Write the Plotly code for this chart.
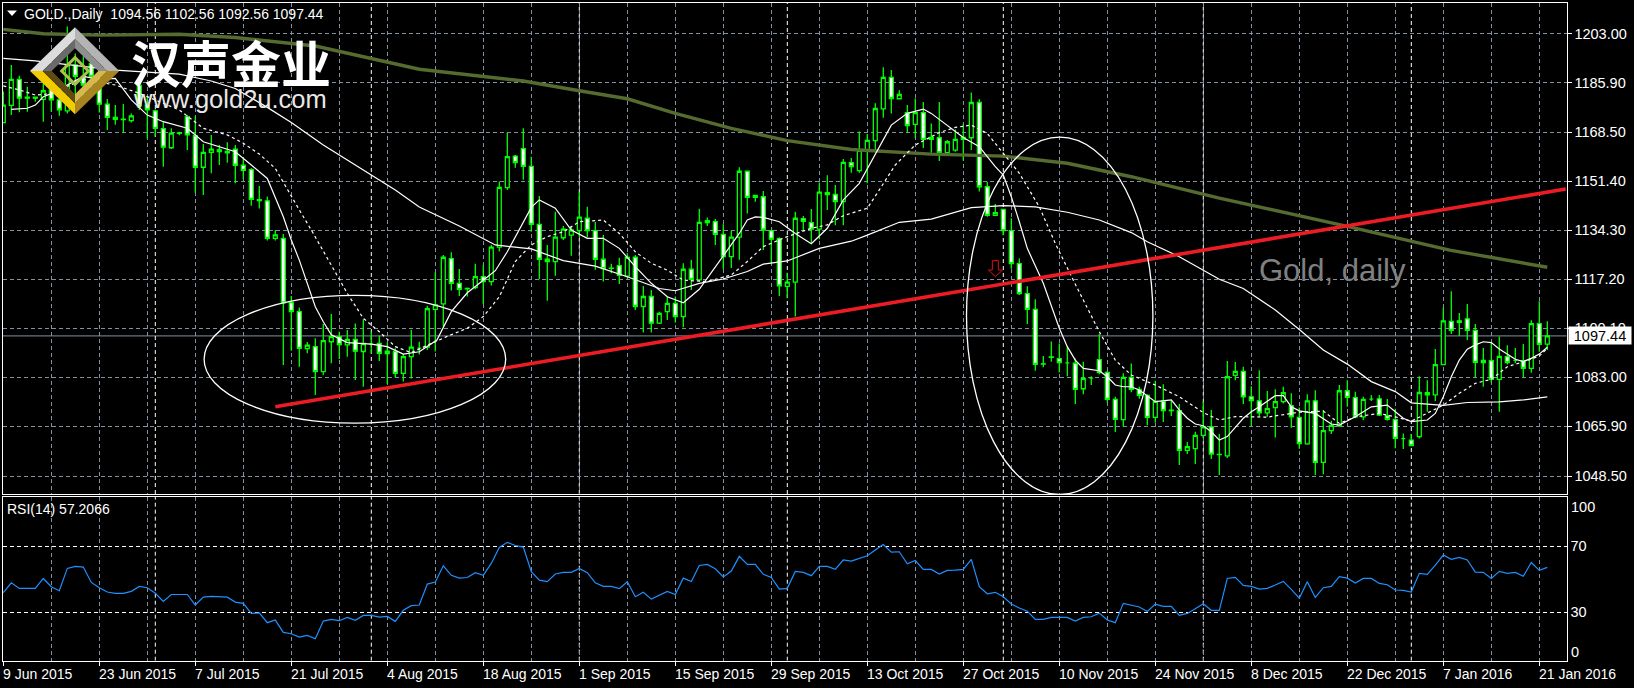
import plotly.graph_objects as go

W, H = 1634, 688

OPEN = [1171.9,1177.9,1187.0,1180.8,1180.8,1180.0,1183.3,1179.8,1176.0,1192.0,
 1188.0,1192.5,1186.8,1178.3,1173.7,1173.1,1172.6,1184.9,1177.9,1176.0,
 1169.8,1163.1,1168.1,1174.0,1167.3,1156.3,1161.5,1162.4,1161.8,1162.6,
 1157.0,1155.5,1145.0,1144.6,1131.5,1131.5,1109.1,1105.9,1093.0,1093.7,
 1085.0,1095.4,1097.2,1094.3,1096.2,1092.0,1094.6,1094.8,1091.3,1092.0,
 1084.4,1090.2,1093.2,1093.5,1106.7,1108.6,1124.4,1115.8,1113.9,1114.3,
 1118.1,1116.4,1128.4,1149.2,1160.2,1162.8,1156.6,1136.4,1124.2,1123.4,
 1131.7,1132.6,1134.2,1138.5,1134.2,1124.2,1121.1,1122.0,1118.3,1124.9,
 1107.7,1111.2,1101.9,1105.9,1108.8,1104.2,1120.7,1117.0,1137.7,1137.3,
 1132.9,1125.1,1131.9,1154.9,1145.8,1146.0,1134.2,1131.4,1114.7,1116.2,
 1138.4,1137.0,1134.7,1147.4,1146.8,1144.3,1157.9,1155.1,1162.2,1165.6,
 1176.7,1187.7,1180.2,1175.4,1171.3,1175.4,1166.0,1166.6,1161.4,1162.3,
 1166.0,1166.6,1178.9,1149.5,1139.5,1141.6,1134.2,1122.7,1112.2,1106.7,
 1087.7,1090.1,1089.5,1088.0,1087.9,1079.0,1082.7,1089.2,1084.7,1075.3,
 1068.2,1083.0,1078.8,1076.7,1069.0,1074.6,1071.5,1071.4,1057.5,1058.1,
 1062.7,1065.7,1056.1,1055.6,1083.7,1085.1,1076.2,1074.8,1070.6,1072.4,
 1074.5,1073.1,1069.0,1059.8,1074.8,1053.3,1064.4,1066.0,1078.3,1075.9,
 1069.2,1075.4,1075.5,1069.6,1068.2,1061.6,1061.1,1062.3,1076.9,1076.9,
 1087.4,1102.5,1102.7,1103.4,1099.4,1088.9,1088.8,1082.3,1090.2,1088.9,
 1088.8,1086.1,1101.7,1094.56]
HIGH = [1182.7,1192.0,1188.2,1184.4,1180.9,1185.6,1185.6,1183.0,1205.4,1196.0,
 1195.0,1198.0,1192.0,1180.1,1178.0,1178.4,1175.1,1185.6,1181.0,1176.5,
 1172.2,1169.9,1168.7,1174.5,1174.2,1164.4,1167.6,1164.1,1165.0,1164.1,
 1159.4,1156.0,1149.8,1146.1,1134.4,1133.0,1111.4,1107.4,1095.3,1096.6,
 1101.6,1105.1,1098.9,1099.5,1101.8,1103.3,1098.9,1097.6,1095.1,1093.1,
 1091.1,1099.5,1095.4,1108.0,1119.7,1125.7,1126.6,1120.8,1114.3,1122.6,
 1122.2,1129.2,1151.3,1168.4,1160.6,1169.9,1160.0,1146.3,1129.2,1140.8,
 1135.8,1135.8,1147.7,1142.5,1137.2,1132.7,1122.6,1124.7,1126.3,1125.7,
 1114.9,1113.5,1105.9,1111.2,1111.2,1122.8,1124.0,1141.8,1138.8,1138.2,
 1136.4,1134.2,1156.3,1155.1,1146.5,1148.0,1134.4,1131.9,1119.5,1140.8,
 1139.3,1141.7,1151.0,1153.5,1150.1,1159.2,1159.5,1168.8,1167.9,1178.6,
 1191.2,1190.2,1183.2,1178.0,1180.3,1179.1,1171.6,1179.1,1165.8,1169.5,
 1171.4,1182.4,1180.0,1151.2,1143.5,1141.8,1138.5,1124.5,1114.8,1110.2,
 1090.4,1095.5,1094.8,1093.7,1089.6,1088.4,1083.4,1098.1,1085.3,1076.2,
 1084.4,1087.8,1079.7,1077.1,1081.8,1080.6,1074.8,1073.7,1060.4,1064.0,
 1074.5,1071.6,1063.2,1088.7,1088.3,1086.7,1079.9,1085.5,1078.2,1078.8,
 1079.7,1077.4,1072.5,1077.1,1078.5,1071.6,1067.8,1080.3,1082.0,1078.0,
 1076.2,1076.8,1076.8,1075.4,1072.0,1063.4,1063.2,1083.4,1082.0,1092.9,
 1107.4,1113.0,1105.4,1108.6,1101.6,1093.2,1095.2,1097.2,1094.2,1093.2,
 1094.6,1102.9,1109.5,1102.56]
LOW = [1171.9,1174.5,1175.5,1175.7,1179.2,1172.2,1175.7,1174.3,1175.1,1180.0,
 1180.0,1183.0,1175.4,1169.3,1171.1,1168.4,1171.9,1176.3,1166.3,1167.0,
 1156.5,1162.7,1167.5,1162.3,1147.4,1146.6,1154.2,1157.1,1157.9,1150.7,
 1152.2,1142.9,1141.9,1130.7,1130.7,1087.3,1092.3,1086.7,1091.4,1076.8,
 1083.8,1087.9,1089.4,1090.2,1082.1,1079.7,1091.4,1088.7,1080.7,1082.9,
 1081.5,1082.6,1091.0,1092.5,1092.0,1100.7,1113.3,1111.4,1111.2,1113.7,
 1108.6,1115.0,1126.9,1148.4,1156.1,1151.9,1133.8,1117.2,1109.7,1118.4,
 1130.9,1125.4,1131.9,1131.9,1120.5,1116.4,1119.3,1115.6,1117.6,1106.5,
 1098.6,1098.6,1101.6,1103.0,1102.1,1100.5,1113.5,1116.4,1135.8,1129.2,
 1120.7,1121.1,1124.0,1140.2,1144.3,1127.4,1122.8,1111.4,1110.6,1104.2,
 1134.2,1129.8,1131.2,1141.4,1136.1,1136.1,1154.4,1154.4,1150.7,1161.7,
 1173.6,1175.1,1180.0,1168.4,1166.5,1163.0,1161.4,1158.5,1161.1,1161.7,
 1158.6,1162.3,1147.8,1139.0,1139.3,1132.6,1120.9,1111.7,1101.6,1085.3,
 1086.5,1088.4,1084.7,1083.4,1073.7,1077.1,1080.3,1084.1,1074.1,1063.9,
 1065.7,1077.8,1075.5,1066.3,1067.1,1067.4,1069.5,1052.4,1056.2,1052.7,
 1061.7,1054.5,1048.9,1054.8,1082.0,1073.7,1066.0,1069.2,1069.2,1062.0,
 1073.9,1065.4,1058.1,1059.5,1048.9,1049.2,1063.2,1065.7,1072.7,1068.7,
 1068.1,1074.7,1069.5,1067.8,1058.2,1058.0,1059.0,1061.6,1071.0,1074.7,
 1087.3,1098.1,1097.4,1096.0,1083.0,1079.7,1081.1,1071.0,1087.5,1087.9,
 1083.1,1084.6,1091.9,1092.56]
CLOSE = [1178.0,1187.0,1180.4,1180.4,1180.4,1183.0,1179.8,1176.3,1192.0,1188.0,
 1185.0,1188.0,1178.3,1173.7,1173.0,1172.9,1174.2,1177.7,1176.3,1169.9,
 1163.3,1168.2,1168.3,1167.6,1156.3,1161.5,1162.6,1161.8,1161.3,1157.0,
 1155.2,1145.1,1144.7,1131.5,1132.7,1109.0,1105.9,1093.1,1094.2,1085.0,
 1095.8,1097.2,1094.4,1096.2,1092.1,1094.8,1094.6,1091.4,1092.1,1084.4,
 1090.2,1093.5,1093.2,1107.0,1108.3,1124.9,1115.8,1113.7,1114.0,1118.1,
 1116.4,1128.4,1149.3,1160.0,1157.9,1156.6,1136.4,1124.2,1123.4,1131.9,
 1134.7,1134.4,1138.9,1134.2,1124.2,1120.9,1121.0,1118.6,1124.9,1107.7,
 1111.2,1101.9,1105.3,1108.8,1104.2,1120.7,1117.2,1137.1,1137.0,1132.9,
 1125.1,1131.9,1154.9,1145.8,1146.5,1134.4,1131.2,1114.9,1116.2,1138.5,
 1137.4,1134.7,1147.6,1146.8,1144.3,1158.0,1156.5,1162.2,1165.7,1176.8,
 1187.7,1180.3,1181.7,1170.8,1175.4,1166.0,1166.7,1161.4,1165.2,1166.0,
 1166.7,1178.9,1149.5,1139.5,1140.5,1134.2,1122.7,1112.2,1106.7,1087.5,
 1087.6,1090.0,1088.1,1088.0,1078.8,1082.6,1082.7,1084.6,1075.3,1068.3,
 1083.0,1078.8,1076.7,1069.0,1074.6,1071.4,1071.4,1057.5,1058.8,1062.7,
 1065.7,1056.2,1056.0,1083.2,1085.1,1076.2,1074.9,1070.6,1072.1,1074.5,
 1077.6,1069.2,1059.9,1074.8,1053.3,1064.4,1066.2,1078.3,1076.0,1069.2,
 1075.3,1075.4,1069.8,1068.3,1061.7,1061.6,1059.2,1077.7,1077.6,1087.4,
 1102.7,1099.4,1102.2,1099.4,1088.2,1088.1,1082.3,1090.3,1088.1,1088.9,
 1086.1,1101.7,1094.5,1097.44]

FAST_X = [1,3,4,5,6,8,10,12,14,16,18,20,23,25,27,29,31,33,35,36,37,38,39,40,41,43,46,48,50,52,
 54.2,56,58,60,61.5,63,65,66,67,69,71,73,75,77,79,81,83,85,87,89,90.5,92,93,94,95,97,99,101,103,105,
 107,109,111,113,115,116,118,120,122,124,125,126,127,128,130,132,133,134,135,137,138,139,140,141,142,143,144,146,147,148,
 149,150,151,152,153,154,155,156,157,159,160,161,162,164,166,167,169,171,173,174,175,176,178,179,180,181,182,183,184,185,
 186,187,188,189,190,191,192,193]
FAST_Y = [1176.5,1176.9,1178.0,1180.9,1182.0,1185.0,1188.0,1187.0,1187.3,1179.8,1174.5,1172.2,1169.9,1165.2,1163.5,1161.7,1157.1,1152.4,1139.0,1130.9,1123.9,1115.8,1107.6,1102.4,1097.8,1095.1,1094.6,1093.7,1091.1,1091.9,
 1096.0,1105.9,1112.5,1116.9,1120.2,1126.8,1137.3,1142.3,1144.9,1142.0,1134.4,1131.5,1131.5,1128.0,1121.6,1115.8,1111.1,1109.0,1113.7,1121.6,1127.4,1133.2,1137.9,1139.0,1138.8,1137.3,1133.2,1129.6,1135.0,1144.9,
 1150.7,1161.1,1171.0,1175.1,1176.6,1175.1,1171.0,1166.7,1163.5,1156.5,1153.6,1146.0,1137.3,1128.0,1115.8,1100.1,1093.7,1089.0,1086.1,1085.3,1083.2,1080.3,1079.7,1079.7,1078.6,1076.6,1074.5,1075.1,1071.6,1068.7,
 1066.7,1066.1,1064.0,1061.1,1062.3,1065.5,1068.7,1071.0,1072.7,1076.6,1076.6,1072.7,1071.3,1070.4,1066.7,1066.3,1069.2,1072.7,1073.3,1071.0,1068.7,1067.5,1068.1,1070.4,1076.2,1083.2,1089.0,1092.8,1094.3,1095.4,
 1095.1,1092.9,1091.1,1089.3,1088.5,1089.6,1091.1,1093.5]

SLOW_X = [0,2,4,6,10,14,17,22,25,28,30,32,34,35.5,37,38.5,42,43,45,47,49,51,55.4,58,60,62,64,66,68,70,72,75,77,79,81,83,85,88,91,93,95,98,101,103,105,108,109.5,111.5,114,117,119,121,123,125,127,129.5,131.5,133.75,135,137,139,141,144,147,150,152,154,158,162,165,167,169,172,174,176,178,180,182,184,186,188,190,192,193]
SLOW_Y = [1184.7,1183.3,1181.5,1182.0,1187.0,1185.0,1182.1,1176.3,1169.9,1167.6,1164.7,1160.9,1155.9,1148.4,1141.4,1134.4,1117.5,1112.3,1103.6,1098.9,1093.7,1091.6,1097.2,1100.1,1104.2,1111.1,1123.4,1129.2,1132.1,1133.8,1137.3,1137.9,1133.2,1126.8,1122.8,1120.4,1116.9,1116.4,1118.7,1123.4,1128.6,1132.1,1135.0,1136.2,1139.4,1142.0,1148.4,1157.1,1164.1,1168.4,1170.2,1171.0,1168.1,1161.1,1154.2,1142.5,1129.7,1116.9,1110.0,1098.9,1089.0,1083.8,1080.3,1076.2,1070.7,1068.1,1069.3,1069.1,1070.8,1071.2,1066.9,1069.2,1070.4,1069.2,1067.7,1070.4,1073.3,1077.4,1080.9,1082.3,1086.7,1088.4,1090.4,1093.1]

MID_X = [0,4,14,22,26,29,33,36,40,45,49,52,57,61.5,66,70,74,78,82,84,87,90,93,95,98,102,106,108,112,116,121,125,129,133,137,141,143,147,152,155,159,162,165,168,171,174,176,180,183,187,190,193]
MID_Y = [1194.3,1193.4,1190.2,1188.8,1186.4,1183.8,1177.2,1171.9,1164.1,1155.3,1148.4,1142.4,1135.8,1129.2,1127.8,1123.7,1121.8,1118.1,1114.0,1113.2,1115.8,1117.3,1119.9,1122.5,1123.6,1128.0,1130.5,1132.6,1137.1,1138.2,1142.2,1142.9,1142.5,1140.6,1137.9,1133.5,1130.3,1125.1,1117.2,1114.0,1106.5,1099.7,1092.5,1087.6,1081.5,1078.0,1074.1,1073.2,1074.2,1074.4,1075.1,1076.2]

LONG_X = [0,5,12,22,29,39,52,65,72,78,84,91,98,102,106,116,125,133,141,152,168,180.8,186.7,193]
LONG_Y = [1204.4,1202.9,1202.4,1202.7,1201.6,1198.6,1190.5,1186.4,1183.0,1180.2,1175.1,1169.9,1165.6,1164.1,1162.5,1160.9,1160.2,1157.7,1153.0,1145.5,1135.7,1127.4,1124.5,1121.4]

TREND_X = [34, 195.3]
TREND_Y = [1072.7, 1148.7]

RSI = [41.9,47.9,44.5,44.5,44.5,50.5,45.5,43.1,56.6,57.8,
 57.4,48.1,44.9,42.3,41.5,41.5,42.7,45.7,44.9,41.5,
 36.6,40.8,40.8,40.8,34.4,39.2,39.6,39.6,39.2,36.2,
 35.4,29.3,29.7,23.7,25.3,17.8,17.0,15.0,16.0,14.0,
 24.7,25.7,24.9,26.9,25.1,28.1,28.1,27.1,27.5,24.5,
 31.2,34.0,34.4,47.1,48.3,58.2,52.4,50.7,51.1,54.0,
 52.4,59.6,69.3,72.4,70.5,69.5,54.6,49.5,48.6,53.2,
 54.2,54.2,56.6,54.0,47.9,45.7,45.7,44.3,48.5,39.4,
 42.1,38.0,40.2,42.7,40.8,50.7,48.7,58.4,59.0,56.4,
 51.4,55.0,63.9,59.0,59.0,53.0,51.1,44.1,44.5,54.8,
 54.2,52.2,57.8,57.8,56.0,61.7,61.0,62.7,64.3,67.7,
 71.1,66.5,66.7,59.4,61.4,56.0,56.0,53.2,55.4,55.6,
 56.0,62.1,45.5,41.2,42.1,39.4,35.0,32.6,30.7,25.7,
 25.7,26.9,26.9,26.9,24.7,26.9,27.3,29.5,25.3,23.7,
 35.4,34.2,33.2,30.5,35.0,33.6,33.6,28.1,29.3,32.2,
 35.2,31.2,31.2,50.5,51.2,46.3,45.7,44.1,44.5,46.5,
 48.7,43.9,38.6,48.5,39.0,44.9,45.7,51.6,50.7,47.7,
 50.5,50.5,47.5,46.7,43.5,43.3,42.3,53.6,53.0,58.6,
 64.7,62.1,63.3,61.7,54.4,54.2,50.5,54.8,53.6,54.2,
 51.8,60.2,55.4,57.2066]

DATE_POS = [0,12,24,36,48,60,72,84,96,108,120,132,144,156,168,180,192]
DATE_LABELS = ["9 Jun 2015","23 Jun 2015","7 Jul 2015","21 Jul 2015","4 Aug 2015","18 Aug 2015",
 "1 Sep 2015","15 Sep 2015","29 Sep 2015","13 Oct 2015","27 Oct 2015","10 Nov 2015","24 Nov 2015",
 "8 Dec 2015","22 Dec 2015","7 Jan 2016","21 Jan 2016"]
WEEK_POS = list(range(0, 196, 6))
MONTH_POS = [19,46,72,98,125,150,176]
PRICE_TICKS = [1203.00,1185.90,1168.50,1151.40,1134.30,1117.20,1100.10,1083.00,1065.90,1048.50]
RSI_LEVELS = [70,30]
LAST_PRICE = 1097.44

# ------------------------------------------------------------------ layout
L, R = 2.5, 1566.5
M_T, M_B = 2.5, 494.0
S_T, S_B = 496.5, 660.7
BAR_X0, BAR_DX = 3.3, 8.0
GREY = "#8392a1"
FONT = "Liberation Sans"
DASH = "4px,3px"

px = lambda x: x / W
py = lambda y: 1 - y / H

idx = list(range(len(OPEN)))
fig = go.Figure()

fig.add_trace(go.Candlestick(
    x=idx, open=OPEN, high=HIGH, low=LOW, close=CLOSE,
    increasing=dict(line=dict(color="#00ff00", width=1.3), fillcolor="#000000"),
    decreasing=dict(line=dict(color="#00ff00", width=1.3), fillcolor="#ffffff"),
    whiskerwidth=0, xaxis="x", yaxis="y", hoverinfo="skip", showlegend=False))

fig.add_trace(go.Scatter(x=LONG_X, y=LONG_Y, mode="lines", line=dict(color="#556b2f", width=3.4),
                         xaxis="x", yaxis="y", hoverinfo="skip", showlegend=False))
fig.add_trace(go.Scatter(x=MID_X, y=MID_Y, mode="lines", line=dict(color="#ffffff", width=1.2),
                         xaxis="x", yaxis="y", hoverinfo="skip", showlegend=False))
fig.add_trace(go.Scatter(x=SLOW_X, y=SLOW_Y, mode="lines", line=dict(color="#ffffff", width=1.2, dash="3px,3px"),
                         xaxis="x", yaxis="y", hoverinfo="skip", showlegend=False))
fig.add_trace(go.Scatter(x=FAST_X, y=FAST_Y, mode="lines", line=dict(color="#ffffff", width=1.2),
                         xaxis="x", yaxis="y", hoverinfo="skip", showlegend=False))
fig.add_trace(go.Scatter(x=TREND_X, y=TREND_Y, mode="lines", line=dict(color="#ed1c24", width=3.6),
                         xaxis="x", yaxis="y", hoverinfo="skip", showlegend=False))
fig.add_trace(go.Scatter(x=idx, y=RSI, mode="lines", line=dict(color="#1e90ff", width=1.2),
                         xaxis="x2", yaxis="y2", hoverinfo="skip", showlegend=False))

xrange_ = [(L - BAR_X0) / BAR_DX, (R - BAR_X0) / BAR_DX]
price_at = lambda y: 1100.1 + (328.3 - y) / 2.8655
rsi_at = lambda y: 70 - (y - 546.3) / 1.65

def xax(anchor, labels_tick):
    return dict(domain=[px(L), px(R)], range=xrange_, anchor=anchor, showticklabels=False,
                tickmode="array", tickvals=DATE_POS,
                ticks="outside" if labels_tick else "", ticklen=4, tickcolor="#ffffff", tickwidth=1,
                showgrid=True, gridcolor=GREY, griddash=DASH, gridwidth=1,
                minor=dict(tickmode="array", tickvals=WEEK_POS, showgrid=True, gridcolor=GREY,
                           griddash=DASH, gridwidth=1, ticks=""),
                showline=True, linecolor="#ffffff", linewidth=1, mirror=True, zeroline=False,
                rangeslider=dict(visible=False), fixedrange=True)

fig.update_layout(
    width=W, height=H, autosize=False, margin=dict(l=0, r=0, t=0, b=0),
    paper_bgcolor="#000000", plot_bgcolor="#000000", showlegend=False,
    font=dict(family=FONT, size=14, color="#ffffff"),
    xaxis=xax("y", False),
    xaxis2=xax("y2", True),
    yaxis=dict(domain=[py(M_B), py(M_T)], range=[price_at(M_B), price_at(M_T)], anchor="x", side="right",
               tickmode="array", tickvals=PRICE_TICKS, ticktext=[f"{v:.2f}" for v in PRICE_TICKS],
               ticks="outside", ticklen=4, tickcolor="#ffffff", tickfont=dict(family=FONT, size=14.5, color="#ffffff"),
               showgrid=True, gridcolor=GREY, griddash=DASH, gridwidth=1,
               showline=True, linecolor="#ffffff", linewidth=1, mirror=True, zeroline=False, fixedrange=True),
    yaxis2=dict(domain=[py(S_B), py(S_T)], range=[rsi_at(S_B), rsi_at(S_T)], anchor="x2", side="right",
                tickmode="array", tickvals=RSI_LEVELS, ticktext=[str(v) for v in RSI_LEVELS],
                ticks="", tickfont=dict(family=FONT, size=14.5, color="#ffffff"),
                showgrid=True, gridcolor="#ffffff", griddash=DASH, gridwidth=1,
                showline=True, linecolor="#ffffff", linewidth=1, mirror=True, zeroline=False, fixedrange=True),
)

shapes = []
# period separators
for k in MONTH_POS:
    for yr in ("y", "y2"):
        rng = (price_at(M_B), price_at(M_T)) if yr == "y" else (rsi_at(S_B), rsi_at(S_T))
        shapes.append(dict(type="line", xref="x", yref=yr, x0=k, x1=k, y0=rng[0], y1=rng[1], layer="below",
                           line=dict(color="#ffffff", width=1, dash=DASH)))
# last price line
shapes.append(dict(type="line", xref="paper", yref="y", x0=px(L), x1=px(R), y0=LAST_PRICE, y1=LAST_PRICE,
                   layer="below", line=dict(color=GREY, width=1)))
# ellipses drawn on the price chart
shapes.append(dict(type="circle", xref="x", yref="y", x0=25.1, x1=62.8, y0=1067.0, y1=1111.6,
                   line=dict(color="#ffffff", width=1.3), layer="above"))
shapes.append(dict(type="circle", xref="x", yref="y", x0=120.4, x1=143.7, y0=1042.1, y1=1166.8,
                   line=dict(color="#ffffff", width=1.3), layer="above"))

def poly(points, fill=None, line=None, width=1):
    d = "M " + " L ".join(f"{px(x):.5f},{py(y):.5f}" for x, y in points) + " Z"
    s = dict(type="path", xref="paper", yref="paper", path=d, layer="above",
             line=dict(color=line or "rgba(0,0,0,0)", width=width if line else 0))
    if fill:
        s["fillcolor"] = fill
    return s

# red arrow
a = [(577,632),(595,632),(595,660),(608,660),(586,680),(565,660),(577,660)]
shapes.append(poly([(800 + x / 3, 50 + y / 3) for x, y in a], line="#e01010", width=1))
# header triangle
shapes.append(poly([(7, 10.5), (17, 10.5), (12, 16)], fill="#ffffff"))
# logo (coordinates taken at 3x)
Z = lambda pts: [(x / 3, y / 3) for x, y in pts]
shapes += [
    poly(Z([(90,213),(225,82),(225,118),(128,213)]), fill="#dcdcdc"),
    poly(Z([(225,82),(358,213),(322,213),(225,118)]), fill="#b4b4b4"),
    poly(Z([(128,213),(225,118),(225,145),(155,213)]), fill="#6a6a6a"),
    poly(Z([(225,118),(322,213),(295,213),(225,145)]), fill="#8f8f8f"),
    poly(Z([(90,213),(128,213),(225,310),(225,343)]), fill="#f2cc00"),
    poly(Z([(358,213),(322,213),(225,310),(225,343)]), fill="#a9851f"),
    poly(Z([(128,213),(155,213),(225,283),(225,310)]), fill="#5e4a12"),
    poly(Z([(322,213),(295,213),(225,283),(225,310)]), fill="#d8b84c"),
    poly(Z([(225,173),(265,213),(225,253),(185,213)]), line="#a9c24a", width=3),
]
fig.update_layout(shapes=shapes)

anns = []
def text(x, y, t, size=14, color="#ffffff", xanchor="left", font=FONT, **kw):
    anns.append(dict(xref="paper", yref="paper", x=px(x), y=py(y), text=t, showarrow=False,
                     xanchor=xanchor, yanchor="middle", font=dict(family=font, size=size, color=color),
                     borderpad=0, borderwidth=0, **kw))

text(24, 14, "GOLD.,Daily&nbsp;&nbsp;1094.56 1102.56 1092.56 1097.44")
text(7, 509, "RSI(14) 57.2066")
for k, lab in zip(DATE_POS, DATE_LABELS):
    text(BAR_X0 + k * BAR_DX - 0.5, 674, lab)
text(1571, 507, "100", size=14.5)
text(1571, 652, "0", size=14.5)
text(1259, 270.5, "Gold, daily", size=31, color="#808080")
text(131, 61, "<b>汉声金业</b>", size=50, font="Noto Sans CJK SC")
text(133, 99, "www.gold2u.com", size=25.5, color="#e8e8e8")
# last price box
anns.append(dict(xref="paper", yref="y", x=px(1568), y=LAST_PRICE, text="1097.44", showarrow=False,
                 xanchor="left", yanchor="middle", width=62, height=17, align="center", bgcolor="#ffffff",
                 font=dict(family=FONT, size=14.5, color="#000000"), borderpad=0))
fig.update_layout(annotations=anns)

fig.write_html("out.html", config=dict(displayModeBar=False, staticPlot=True),
               post_script="document.body.style.margin='0';document.body.style.overflow='hidden';")
